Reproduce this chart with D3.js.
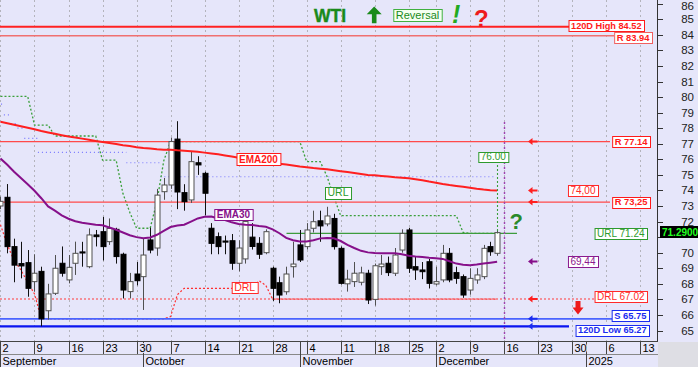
<!DOCTYPE html>
<html>
<head>
<meta charset="utf-8">
<script src="https://cdn.jsdelivr.net/npm/d3@7"></script>
<style>
html, body { margin: 0; padding: 0; background: #e6e6fa; }
svg { display: block; font-family: "Liberation Sans", Arial, sans-serif; }
</style>
</head>
<body>
<svg id="chart" width="698" height="367"></svg>
<script>
// ---- data ----
var dates = [
  "2024-09-02","2024-09-03","2024-09-04","2024-09-05","2024-09-06","2024-09-09","2024-09-10","2024-09-11","2024-09-12","2024-09-13",
  "2024-09-16","2024-09-17","2024-09-18","2024-09-19","2024-09-20","2024-09-23","2024-09-24","2024-09-25","2024-09-26","2024-09-27",
  "2024-09-30","2024-10-01","2024-10-02","2024-10-03","2024-10-04","2024-10-07","2024-10-08","2024-10-09","2024-10-10","2024-10-11",
  "2024-10-14","2024-10-15","2024-10-16","2024-10-17","2024-10-18","2024-10-21","2024-10-22","2024-10-23","2024-10-24","2024-10-25",
  "2024-10-28","2024-10-29","2024-10-30","2024-10-31","2024-11-01","2024-11-04","2024-11-05","2024-11-06","2024-11-07","2024-11-08",
  "2024-11-11","2024-11-12","2024-11-13","2024-11-14","2024-11-15","2024-11-18","2024-11-19","2024-11-20","2024-11-21","2024-11-22",
  "2024-11-25","2024-11-26","2024-11-27","2024-11-29","2024-12-02","2024-12-03","2024-12-04","2024-12-05","2024-12-06","2024-12-09",
  "2024-12-10","2024-12-11","2024-12-12","2024-12-13"
];
var opens = [
  73.0,73.56,70.39,69.3,69.36,68.14,68.8,66.27,67.39,69.32,
  68.25,69.32,70.05,69.1,71.14,71.35,70.71,71.5,69.9,67.5,
  68.63,68.46,70.82,70.3,73.92,74.35,77.3,73.86,73.39,75.78,
  75.1,71.57,71.03,70.75,70.77,69.32,69.6,71.0,70.6,70.0,
  69.0,68.07,67.49,69.1,70.5,70.39,71.57,72.05,71.85,72.2,
  70.28,68.0,68.14,68.1,68.68,67.0,69.1,69.32,68.68,70.17,
  71.46,69.1,68.89,69.42,67.99,68.25,69.96,68.72,68.46,67.6,
  68.25,68.46,70.39,69.96
];
var highs = [
  73.6,74.41,70.9,70.7,70.17,69.9,69.1,68.0,69.85,70.4,
  69.85,70.71,70.7,71.56,71.46,72.3,72.2,71.6,70.0,68.7,
  69.4,70.9,71.6,74.1,74.8,77.4,78.45,74.4,76.5,76.2,
  75.2,71.9,71.3,71.1,71.2,70.8,72.1,71.9,71.0,71.5,
  69.1,68.46,69.1,70.7,71.46,71.9,72.7,72.7,72.95,72.5,
  70.4,68.9,69.4,69.1,68.9,69.3,69.85,69.75,70.3,71.5,
  71.6,69.75,69.4,69.6,69.1,70.5,70.3,69.1,68.6,69.0,
  69.0,70.5,70.7,71.4
];
var lows = [
  72.8,69.96,68.1,68.35,67.17,67.5,65.27,65.7,67.28,68.46,
  68.03,68.57,69.1,69.0,70.4,69.5,70.5,69.3,67.06,67.06,
  67.9,66.32,69.96,69.8,73.4,74.1,72.8,72.7,73.2,75.0,
  72.4,69.9,69.9,69.9,68.9,68.8,69.3,70.2,69.6,69.9,
  66.9,66.75,67.3,68.4,69.4,70.2,71.3,70.7,71.7,70.2,
  67.95,67.5,67.8,67.9,66.7,66.6,68.57,68.5,68.5,70.0,
  68.7,68.25,68.3,67.7,67.9,68.1,68.1,68.0,67.1,67.3,
  68.0,68.3,69.8,69.8
];
var closes = [
  73.3,70.39,69.2,69.15,67.71,68.68,65.75,67.35,69.0,68.68,
  69.06,69.96,69.98,71.14,71.03,70.39,71.56,69.75,67.6,68.14,
  68.2,69.85,70.17,73.7,74.35,77.14,73.9,73.28,75.85,75.64,
  73.82,70.6,70.39,70.68,69.32,70.3,72.0,70.4,69.9,71.35,
  67.71,67.28,68.63,69.27,69.53,71.46,71.99,71.72,72.36,70.39,
  68.03,68.3,68.68,68.7,66.96,69.16,69.27,68.72,69.85,71.24,
  69.0,68.89,68.78,68.03,68.14,69.96,68.25,68.35,67.28,68.35,
  68.57,70.28,70.06,71.29
];
var ema200 = [
  78.42,78.32,78.22,78.12,78.03,77.93,77.82,77.73,77.64,77.55,
  77.47,77.40,77.33,77.26,77.18,77.12,77.05,76.98,76.91,76.85,
  76.78,76.73,76.69,76.65,76.62,76.62,76.58,76.55,76.52,76.48,
  76.43,76.38,76.32,76.25,76.18,76.10,76.03,75.96,75.89,75.82,
  75.77,75.72,75.66,75.60,75.54,75.49,75.44,75.40,75.36,75.30,
  75.24,75.18,75.12,75.06,75.00,74.97,74.93,74.89,74.85,74.82,
  74.78,74.72,74.65,74.57,74.50,74.42,74.35,74.29,74.23,74.17,
  74.11,74.06,74.02,73.99
];
var ema30 = [
  76.05,75.65,75.2,74.8,74.4,73.98,73.5,72.97,72.7,72.4,
  72.18,72.02,71.92,71.86,71.80,71.76,71.62,71.47,71.3,71.12,
  71.0,70.93,70.98,71.15,71.4,71.65,71.75,71.8,72.0,72.2,
  72.31,72.32,72.2,72.1,71.95,71.85,71.8,71.78,71.72,71.67,
  71.5,71.25,70.95,70.8,70.72,70.72,70.8,70.92,70.95,70.93,
  70.75,70.5,70.3,70.12,70.02,69.98,69.97,69.96,69.96,69.9,
  69.8,69.75,69.72,69.68,69.65,69.6,69.45,69.3,69.22,69.2,
  69.24,69.3,69.36,69.42
];
// upper reversal line (green dotted) and lower reversal line (red dotted)
var urlTrail = [
  80.05,80.05,80.05,80.05,80.05,78.2,78.2,78.2,77.5,77.5,
  77.5,77.5,77.5,77.5,77.5,75.95,75.95,75.95,73.8,72.6,
  71.57,71.57,71.57,73.3,75.9,77.14,77.14,77.14,77.14,77.14,
  77.14,77.14,77.14,77.14,77.14,77.14,77.14,77.14,77.14,77.14,
  77.14,77.14,77.14,77.14,77.14,75.85,75.85,75.85,74.9,73.6,
  72.38,72.38,72.38,72.38,72.38,72.38,72.38,72.38,72.38,72.38,
  72.38,72.38,72.38,72.38,72.38,72.38,72.38,72.38,71.3,71.24,
  71.24,71.24,71.24,71.24
];
var drlTrail = [
  71.8,70.5,69.5,68.9,68.1,67.35,65.75,65.75,65.75,65.75,
  65.75,65.75,65.75,65.75,65.75,65.75,65.75,65.75,65.75,65.75,
  65.75,65.75,65.75,65.75,65.75,65.9,67.3,67.71,67.71,67.71,
  67.71,67.71,67.71,67.71,67.71,67.71,67.71,67.71,68.2,67.9,
  67.02,67.02,67.02,67.02,67.02,67.02,67.02,67.02,67.02,67.02,
  67.02,67.02,67.02,67.02,67.02,67.02,67.02,67.02,67.02,67.02,
  67.02,67.02,67.02,67.02,67.02,67.02,67.02,67.02,67.02,67.02,
  67.02,67.02,67.02,67.02
];
var blueTrail = [
  79.55,78.85,78.3,78.0,77.35,77.35,76.45,76.45,76.45,76.45,
  76.45,76.45,76.45,76.45,76.45,76.45,76.45,76.45,76.45,75.78,
  75.78,75.78,75.78,75.78,74.88,74.88,74.88,74.88,74.88,74.88,
  74.88,74.88,74.88,74.88,74.88,74.88,74.88,74.88,74.88,74.88,
  74.88,74.88,74.88,74.88,74.88,74.88,74.88,74.88,74.88,74.88,
  74.88,74.88,74.88,74.88,74.88,74.88,74.88,74.88,74.88,74.88,
  74.88,74.88,74.88,74.88,74.88,74.88,74.88,74.88,74.88,74.88,
  74.88,74.88,74.88,null
];
var levelValues = [84.52, 83.94, 77.14, 73.25, 71.24, 67.02, 65.75, 65.27];
var levelLabels = ["120D High 84.52", "R 83.94", "R 77.14", "R 73,25", "URL 71.24", "DRL 67.02", "S 65.75", "120D Low 65.27"];
var ema200Last = "74,00", ema30Last = "69,44", urlTarget = "76.00", lastPrice = "71.2900";
var tickDates = ["2024-09-02","2024-09-09","2024-09-16","2024-09-23","2024-09-30","2024-10-07","2024-10-14","2024-10-21",
  "2024-10-28","2024-11-04","2024-11-11","2024-11-18","2024-11-25","2024-12-02","2024-12-09","2024-12-16",
  "2024-12-23","2024-12-30","2025-01-06","2025-01-13"];
var monthStarts = ["2024-09-02","2024-10-01","2024-11-01","2024-12-02","2025-01-01"];
var monthNames  = ["September","October","November","December","2025"];
var closedDays = ["2024-11-28"];
var yTicks = d3.range(65, 87);

// ---- layout ----
var svg = d3.select("#chart");
var plotW = 657, plotH = 341;
var parse = d3.timeParse("%Y-%m-%d"), fmt = d3.timeFormat("%Y-%m-%d");
var slots = d3.timeDay.range(parse("2024-09-02"), parse("2025-01-25"))
  .filter(function(d) { return d.getDay() > 0 && d.getDay() < 6; })
  .map(fmt)
  .filter(function(s) { return closedDays.indexOf(s) < 0; });
var slotIndex = new Map(slots.map(function(s, i) { return [s, i]; }));

var x = d3.scaleLinear().domain([-0.07, 96.5]).range([0, plotW]);
var y = d3.scaleLinear().domain([65, 86]).range([330.5, 3.7]);
function xd(s) { return x(slotIndex.get(s)); }

svg.append("rect").attr("width", 698).attr("height", 367).attr("fill", "#e6e6fa");
svg.append("rect").attr("x", plotW + 1).attr("y", plotH + 1).attr("width", 698 - plotW).attr("height", 367 - plotH)
  .attr("fill", "#dedee4");
svg.append("defs").append("clipPath").attr("id", "clip")
  .append("rect").attr("width", plotW).attr("height", plotH);

var plot = svg.append("g").attr("clip-path", "url(#clip)");

// vertical dotted grid
plot.selectAll(".grid").data(tickDates).enter().append("line")
  .attr("x1", function(d) { return Math.round(xd(d)) + 0.5; })
  .attr("x2", function(d) { return Math.round(xd(d)) + 0.5; })
  .attr("y1", 0).attr("y2", plotH)
  .attr("stroke", "#b4b4bc").attr("stroke-dasharray", "2,3");

var line = d3.line().x(function(d, i) { return xd(dates[i]); }).y(function(d) { return y(d); });

// blue stepped trail (sparse dots)
var runs = [];
blueTrail.forEach(function(v, i) {
  if (v == null) return;
  var last = runs[runs.length - 1];
  if (last && last.v === v && last.end === i - 1) last.end = i;
  else runs.push({ v: v, start: i, end: i });
});
plot.selectAll(".bt").data(runs).enter().append("line")
  .attr("x1", function(r) { return xd(dates[r.start]) - 3.4; })
  .attr("x2", function(r) { return xd(dates[r.end]) + 3.4; })
  .attr("y1", function(r) { return y(r.v); })
  .attr("y2", function(r) { return y(r.v); })
  .attr("stroke", "#7878ff").attr("stroke-width", 1.2).attr("stroke-dasharray", "1,3");

// reversal trails
plot.append("path").attr("d", line(drlTrail)).attr("fill", "none")
  .attr("stroke", "#ff3030").attr("stroke-width", 1.2).attr("stroke-dasharray", "2,2");
plot.append("path").attr("d", line(urlTrail)).attr("fill", "none")
  .attr("stroke", "#3aa03a").attr("stroke-width", 1.3).attr("stroke-dasharray", "2,2");

// level lines
function hline(v, x2, color, width, dash) {
  plot.append("line").attr("x1", 0).attr("x2", x2)
    .attr("y1", y(v)).attr("y2", y(v))
    .attr("stroke", color).attr("stroke-width", width)
    .attr("stroke-dasharray", dash || null);
}
hline(levelValues[0], 574, "#ff2222", 2.2);
hline(levelValues[1], 614, "#f07070", 1.6);
hline(levelValues[2], 610, "#ff4a4a", 1.2);
hline(levelValues[3], 610, "#ff4a4a", 1.2);
plot.append("line").attr("x1", 286.5).attr("x2", 517)
  .attr("y1", y(levelValues[4])).attr("y2", y(levelValues[4]))
  .attr("stroke", "#3c9c3c").attr("stroke-width", 1.1);
hline(levelValues[5], 597, "#ff3a3a", 1.1, "2,2");
hline(levelValues[6], 612, "#4a64ff", 1.6);
hline(levelValues[7], 569, "#0a14f0", 2.2);

// candles
var last = dates.length - 1;
var cg = plot.append("g");
dates.forEach(function(d, i) {
  var cx = Math.round(xd(d)) + 0.5;
  var up = closes[i] >= opens[i];
  cg.append("line").attr("x1", cx).attr("x2", cx)
    .attr("y1", y(highs[i])).attr("y2", y(lows[i]))
    .attr("stroke", up ? "#505050" : "#111");
  var top = y(Math.max(opens[i], closes[i])), bot = y(Math.min(opens[i], closes[i]));
  cg.append("rect").attr("x", cx - 2.5).attr("width", 5)
    .attr("y", top).attr("height", Math.max(1, bot - top))
    .attr("fill", up ? "#fff" : "#000")
    .attr("stroke", up ? "#505050" : "#000").attr("stroke-width", 1);
});

// moving averages
plot.append("path").attr("d", line(ema200)).attr("fill", "none")
  .attr("stroke", "#ff2020").attr("stroke-width", 2);
plot.append("path").attr("d", line(ema30)).attr("fill", "none")
  .attr("stroke", "#86108a").attr("stroke-width", 2);

// today marker and URL target
var todayX = Math.round(x(slotIndex.get("2024-12-16"))) + 0.5;
plot.append("line").attr("x1", todayX).attr("x2", todayX).attr("y1", 122).attr("y2", plotH)
  .attr("stroke", "#a040b0").attr("stroke-width", 1.4).attr("stroke-dasharray", "2,3");
var lastX = Math.round(xd(dates[last])) + 0.5;
plot.append("line").attr("x1", lastX).attr("x2", lastX).attr("y1", 161).attr("y2", y(levelValues[4]))
  .attr("stroke", "#3aa03a").attr("stroke-width", 1.1).attr("stroke-dasharray", "2,2");

// labelled boxes
function labelBox(o) {
  var g = svg.append("g");
  var t = g.append("text").text(o.text)
    .attr("font-size", o.size || 10).attr("font-weight", o.bold ? "bold" : "normal")
    .attr("fill", o.color);
  var w = t.node().getComputedTextLength();
  var bw = w + 5, bh = o.h || 11;
  var x0 = o.anchor === "end" ? o.x - bw : o.x;
  t.attr("x", x0 + 2.5).attr("y", o.yc + (o.size || 10) * 0.36);
  g.insert("rect", "text").attr("x", x0 + 0.5).attr("y", Math.round(o.yc - bh / 2) + 0.5)
    .attr("width", bw).attr("height", bh)
    .attr("fill", o.fill || "#fff").attr("stroke", o.stroke || o.color).attr("stroke-width", 1);
}
labelBox({ text: levelLabels[0], x: 644, yc: 25.5, anchor: "end", color: "#ff1a1a", bold: true, size: 9.2 });
labelBox({ text: levelLabels[1], x: 652, yc: 37.2, anchor: "end", color: "#ff1a1a", bold: true, size: 9.4, stroke: "#f06060" });
labelBox({ text: levelLabels[2], x: 650, yc: y(levelValues[2]), anchor: "end", color: "#ff1a1a", bold: true, size: 9.4 });
labelBox({ text: ema200Last, x: 598, yc: y(74.0), anchor: "end", color: "#ff2a2a", size: 10 });
labelBox({ text: levelLabels[3], x: 650, yc: y(levelValues[3]), anchor: "end", color: "#ff1a1a", bold: true, size: 9.4 });
labelBox({ text: levelLabels[4], x: 647, yc: 233.5, anchor: "end", color: "#2e9a2e", size: 10 });
labelBox({ text: ema30Last, x: 598, yc: 261.8, anchor: "end", color: "#8a1a8e", size: 10 });
labelBox({ text: levelLabels[5], x: 647, yc: 296.2, anchor: "end", color: "#ff2a2a", size: 10 });
labelBox({ text: levelLabels[6], x: 649, yc: 315.5, anchor: "end", color: "#1a2cf0", bold: true, size: 9.4 });
labelBox({ text: levelLabels[7], x: 649, yc: 330, anchor: "end", color: "#1a2cf0", bold: true, size: 9.2 });

labelBox({ text: "EMA200", x: 236.5, yc: 159.2, color: "#ff1a1a", bold: true, size: 10, h: 12 });
labelBox({ text: "EMA30", x: 214.3, yc: 214.6, color: "#86108a", bold: true, size: 10, h: 11 });
labelBox({ text: "URL", x: 325, yc: 192.5, color: "#2e9a2e", size: 10.5, h: 12 });
labelBox({ text: "DRL", x: 231.7, yc: 287, color: "#ff2a2a", size: 10.5, h: 11 });
labelBox({ text: urlTarget, x: 478.3, yc: 156.7, color: "#2e9a2e", size: 10, h: 10 });

// small arrows pointing at the levels
function leftArrow(yv, color) {
  svg.append("path")
    .attr("d", "M528," + yv + "l4.5,-3.5v2.5h5v2h-5v2.5z")
    .attr("fill", color);
}
leftArrow(y(levelValues[2]), "#ff2020");
leftArrow(y(74.0), "#ff2020");
leftArrow(y(levelValues[3]), "#ff2020");
leftArrow(y(69.44), "#86108a");
leftArrow(y(levelValues[5]), "#ff2020");
leftArrow(y(levelValues[6]), "#1a2cf0");
leftArrow(y(levelValues[7]), "#1a2cf0");

// big red down arrow
svg.append("path").attr("d", "M575.5,301h5v6.5h3l-5.5,7l-5.5,-7h3z").attr("fill", "#ee1a1a");

// header
svg.append("text").attr("x", 314).attr("y", 22).text("WTI")
  .attr("font-size", 17.5).attr("font-weight", "900").attr("fill", "#1a8a1a")
  .attr("stroke", "#1a8a1a").attr("stroke-width", 0.4);
svg.append("path").attr("d", "M374.2,6.5l7.5,7.8h-5.2v9h-4.6v-9h-5.2z").attr("fill", "#1a8a1a");
labelBox({ text: "Reversal", x: 393.3, yc: 15.2, color: "#1a8a1a", size: 11, h: 12, fill: "#f4fff0", stroke: "#40b040" });
svg.append("text").attr("x", 452).attr("y", 22.5).text("!")
  .attr("font-size", 25).attr("font-weight", "bold").attr("font-style", "italic").attr("fill", "#22aa22");
svg.append("text").attr("x", 474).attr("y", 26.5).text("?")
  .attr("font-size", 24).attr("font-weight", "bold").attr("fill", "#ee1c1c");
svg.append("text").attr("x", 509.5).attr("y", 229).text("?")
  .attr("font-size", 22).attr("font-weight", "bold").attr("fill", "#2a8a2a");

// right price axis (the last-price box hides the 71 label, as in the original)
var hidden = [Math.round(+lastPrice)];
var ax = svg.append("g");
ax.append("line").attr("x1", plotW + 0.5).attr("x2", plotW + 0.5).attr("y1", 0).attr("y2", plotH)
  .attr("stroke", "#333");
ax.selectAll(".yt").data(yTicks).enter().append("line")
  .attr("x1", plotW).attr("x2", plotW + 6)
  .attr("y1", function(d) { return Math.round(y(d)) + 0.5; })
  .attr("y2", function(d) { return Math.round(y(d)) + 0.5; })
  .attr("stroke", "#333");
ax.selectAll(".yl").data(yTicks.filter(function(d) { return hidden.indexOf(d) < 0; })).enter().append("text")
  .attr("x", 694).attr("y", function(d) { return Math.max(y(d) + 4, 9.5); })
  .attr("text-anchor", "end").attr("font-size", 11.5).attr("fill", "#222")
  .text(function(d) { return d; });

// last price box
svg.append("rect").attr("x", 660).attr("y", 226).attr("width", 38).attr("height", 12).attr("fill", "#000");
svg.append("text").attr("x", 662).attr("y", 235.5).text(lastPrice)
  .attr("font-size", 10).attr("font-weight", "bold").attr("fill", "#22ff22");

// bottom date axis
var bx = svg.append("g");
bx.append("line").attr("x1", 0).attr("x2", plotW + 1).attr("y1", plotH + 0.5).attr("y2", plotH + 0.5).attr("stroke", "#444");
bx.append("line").attr("x1", 0).attr("x2", plotW + 1).attr("y1", 354.5).attr("y2", 354.5).attr("stroke", "#888");
bx.selectAll(".md").data(monthStarts).enter().append("line")
  .attr("x1", function(d) { return Math.round(xd(d)) + 0.5; })
  .attr("x2", function(d) { return Math.round(xd(d)) + 0.5; })
  .attr("y1", plotH).attr("y2", 367).attr("stroke", "#444");
bx.selectAll(".xt").data(tickDates).enter().append("line")
  .attr("x1", function(d) { return Math.round(xd(d)) + 0.5; })
  .attr("x2", function(d) { return Math.round(xd(d)) + 0.5; })
  .attr("y1", plotH).attr("y2", 354).attr("stroke", "#444");
bx.selectAll(".xl").data(tickDates).enter().append("text")
  .attr("x", function(d) { return Math.round(xd(d)) + 2.5; })
  .attr("y", 351.5).attr("font-size", 11).attr("fill", "#000")
  .attr("stroke", "#e6e6fa").attr("stroke-width", 2).attr("paint-order", "stroke")
  .text(function(d) { return +d.slice(8); });
bx.selectAll(".ml").data(monthStarts).enter().append("text")
  .attr("x", function(d) { return Math.round(xd(d)) + 2.5; })
  .attr("y", 364.5).attr("font-size", 11).attr("fill", "#000")
  .text(function(d, i) { return monthNames[i]; });
</script>
</body>
</html>
